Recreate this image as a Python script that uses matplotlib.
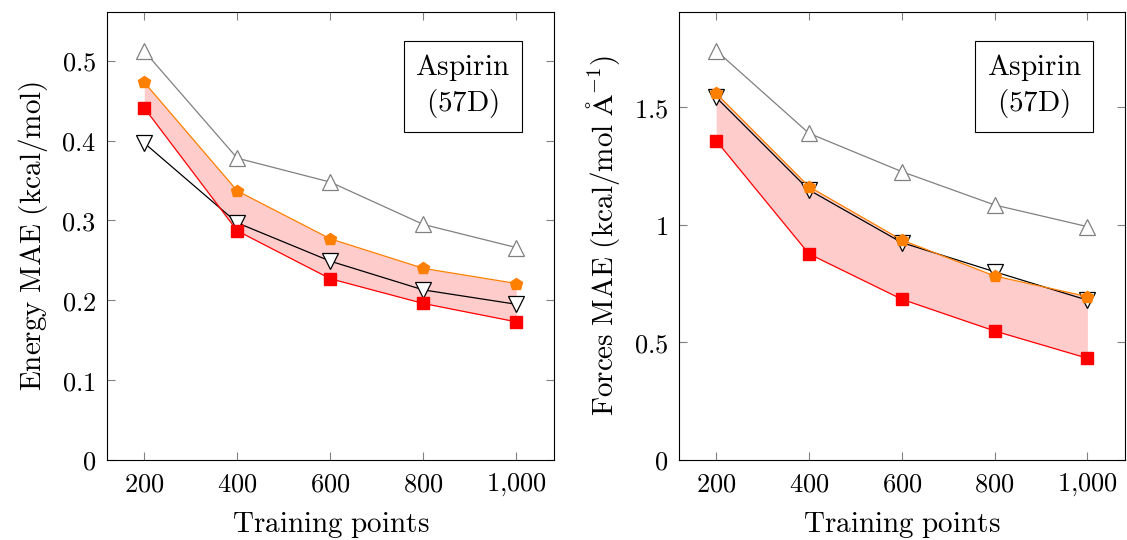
import numpy as np
import matplotlib.pyplot as plt

plt.rcParams['mathtext.fontset'] = 'cm'
plt.rcParams['font.family'] = ['DejaVu Serif']

# data
n_train = [200, 400, 600, 800, 1000]
xtick_labels = ['200', '400', '600', '800', '1{,}000']

energy_gray = [0.512, 0.378, 0.348, 0.295, 0.266]
energy_orange = [0.473, 0.337, 0.277, 0.240, 0.221]
energy_red = [0.441, 0.287, 0.227, 0.196, 0.173]
energy_black = [0.397, 0.297, 0.249, 0.213, 0.195]

forces_gray = [1.742, 1.390, 1.227, 1.085, 0.993]
forces_orange = [1.560, 1.163, 0.936, 0.783, 0.695]
forces_red = [1.359, 0.877, 0.684, 0.549, 0.433]
forces_black = [1.543, 1.149, 0.925, 0.801, 0.680]

def m(s):
    return r'$\mathrm{' + s.replace(' ', r'\ ') + '}$'

fig = plt.figure(figsize=(11.27, 5.4), dpi=100)
ax1 = fig.add_axes([107/1127, 80/540, 447/1127, 448/540])
ax2 = fig.add_axes([679/1127, 80/540, 446/1127, 448/540])

def draw(ax, gray, orange, red, black, ymax, yticks, yticklabels, ylabel):
    ax.fill_between(n_train, red, orange, color='#ffcccc', lw=0, zorder=1)
    ax.plot(n_train, gray, color='#808080', lw=0.9, marker='^', ms=11,
            mfc='white', mec='#808080', mew=0.9, zorder=2)
    ax.plot(n_train, black, color='black', lw=0.9, marker='v', ms=11,
            mfc='white', mec='black', mew=0.9, zorder=3)
    ax.plot(n_train, orange, color='#ff8000', lw=0.9, marker='p', ms=9,
            mfc='#ff8000', mec='#ff8000', zorder=4)
    ax.plot(n_train, red, color='#ff0000', lw=0.9, marker='s', ms=8,
            mfc='#ff0000', mec='#ff0000', zorder=5)
    ax.set_xlim(120, 1081)
    ax.set_ylim(0, ymax)
    ax.set_xticks(n_train)
    ax.set_xticklabels([m(t) for t in xtick_labels], fontsize=19)
    ax.set_yticks(yticks)
    ax.set_yticklabels([m(t) for t in yticklabels], fontsize=19)
    ax.tick_params(direction='in', top=True, right=True, length=6,
                   color='#808080', width=0.8, pad=8)
    for s in ax.spines.values():
        s.set_linewidth(0.8)
    ax.set_xlabel(m('Training points'), fontsize=21, labelpad=9)
    ax.set_ylabel(ylabel, fontsize=21, labelpad=8)
    ax.text(0.796, 0.835, m('Aspirin') + '\n' + m('(57D)'), transform=ax.transAxes,
            ha='center', va='center', fontsize=21, linespacing=1.2,
            bbox=dict(boxstyle='square,pad=0.4', fc='white', ec='black', lw=0.8))

draw(ax1, energy_gray, energy_orange, energy_red, energy_black, 0.561,
     [0, 0.1, 0.2, 0.3, 0.4, 0.5], ['0', '0.1', '0.2', '0.3', '0.4', '0.5'],
     m('Energy MAE (kcal/mol)'))
draw(ax2, forces_gray, forces_orange, forces_red, forces_black, 1.906,
     [0, 0.5, 1, 1.5], ['0', '0.5', '1', '1.5'],
     r'$\mathrm{Forces\ MAE\ (kcal/mol\ \AA^{-1})}$')

fig.savefig('out.png', dpi=100)
